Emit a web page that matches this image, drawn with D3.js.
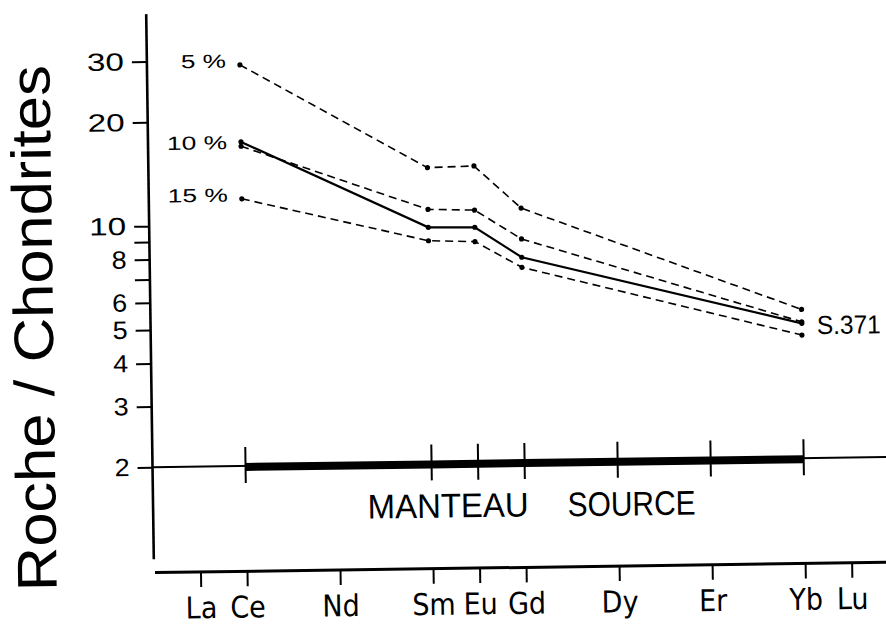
<!DOCTYPE html>
<html>
<head>
<meta charset="utf-8">
<script src="https://cdn.jsdelivr.net/npm/d3@7"></script>
<style>
  html, body { margin: 0; padding: 0; background: #fff; }
  svg { display: block; }
  text { fill: #000; font-family: "Liberation Sans", Arial, sans-serif; }
  .narrow { font-family: "Liberation Sans Narrow", "DejaVu Sans Condensed", "Liberation Sans", sans-serif; }
</style>
</head>
<body>
<svg id="chart" width="886" height="626"></svg>
<script>
// Rare earth elements on the x axis, placed by atomic number
const elements = ["La", "Ce", "Nd", "Sm", "Eu", "Gd", "Dy", "Er", "Yb", "Lu"];
const atomicNumbers = [57, 58, 60, 62, 63, 64, 66, 68, 70, 71];

// Elements with analysed / modelled values
const seriesElements = ["Ce", "Sm", "Eu", "Gd", "Yb"];

// Partial melting models (rock / chondrite)
const melt5  = [29.1, 14.4, 14.5, 10.9, 5.40];
const melt10 = [16.9, 10.9, 10.8, 8.87, 4.97];
const melt15 = [11.9, 8.84, 8.75, 7.34, 4.55];
// Sample S.371
const s371   = [17.4, 9.67, 9.63, 7.85, 4.92];

// Mantle source composition
const mantleElements = ["Ce", "Sm", "Eu", "Gd", "Dy", "Er", "Yb"];
const mantleValues   = [2, 2, 2, 2, 2, 2, 2];

// Y axis ticks and which of them carry a label
const yTicks = [2, 3, 4, 5, 6, 7, 8, 9, 10, 20, 30];
const yTickLabels = [2, 3, 4, 5, 6, 8, 10, 20, 30];

const meltLabels = ["5 %", "10 %", "15 %"];

const zOf = el => atomicNumbers[elements.indexOf(el)];

const svg = d3.select("#chart");
// the whole drawing sits very slightly tilted on the page
const root = svg.append("g").attr("transform", "rotate(-0.8,480,320)");

const x = d3.scaleLinear().domain([57, 70]).range([197, 801.7]);
const y = d3.scaleLog().domain([2, 20]).range([462.7, 117.7]);

const axisX = 150.5;

// ---- Y axis ----
root.append("line")
  .attr("x1", axisX).attr("x2", axisX)
  .attr("y1", 9.5).attr("y2", 554.7)
  .attr("stroke", "#000").attr("stroke-width", 2.6);

const yAxis = d3.axisLeft(y)
  .tickValues(yTicks)
  .tickSize(15)
  .tickPadding(8)
  .tickFormat(d => yTickLabels.includes(d) ? String(d) : "");

root.append("g")
  .attr("transform", `translate(${axisX},0)`)
  .call(yAxis)
  .call(g => g.select(".domain").remove())
  .call(g => g.selectAll(".tick line").attr("stroke", "#000").attr("stroke-width", 2))
  .call(g => g.selectAll(".tick text")
      .attr("font-family", "Liberation Sans, Arial, sans-serif")
      .attr("font-size", 25)
      .attr("fill", "#000")
      .each(function () {
        const t = d3.select(this).text();
        if (t.length === 2) d3.select(this).attr("textLength", 37).attr("lengthAdjust", "spacingAndGlyphs");
        else if (t.length === 1) d3.select(this).attr("textLength", 15).attr("lengthAdjust", "spacingAndGlyphs");
      }));

// Y title
root.append("text")
  .attr("transform", "translate(53,322) rotate(-90)")
  .attr("text-anchor", "middle")
  .attr("font-size", 56)
  .attr("textLength", 526)
  .attr("lengthAdjust", "spacingAndGlyphs")
  .text("Roche / Chondrites");

// ---- Mantle source reference at 2 ----
root.append("line")
  .attr("x1", axisX).attr("x2", 900)
  .attr("y1", y(2)).attr("y2", y(2))
  .attr("stroke", "#000").attr("stroke-width", 2);

const mantleLine = d3.line()
  .x((d, i) => x(zOf(mantleElements[i])))
  .y(d => y(d) + 1);

root.append("path")
  .datum(mantleValues)
  .attr("d", mantleLine)
  .attr("fill", "none")
  .attr("stroke", "#000")
  .attr("stroke-width", 8);

root.append("g").selectAll("line")
  .data(mantleElements)
  .join("line")
  .attr("x1", d => x(zOf(d))).attr("x2", d => x(zOf(d)))
  .attr("y1", (d, i) => y(mantleValues[i]) - 19)
  .attr("y2", (d, i) => y(mantleValues[i]) + 17)
  .attr("stroke", "#000").attr("stroke-width", 2);

root.append("text")
  .attr("x", 365).attr("y", 517)
  .attr("font-size", 34)
  .attr("textLength", 161)
  .attr("lengthAdjust", "spacingAndGlyphs")
  .text("MANTEAU");
root.append("text")
  .attr("x", 565).attr("y", 517.5)
  .attr("font-size", 34)
  .attr("textLength", 128)
  .attr("lengthAdjust", "spacingAndGlyphs")
  .text("SOURCE");

// ---- X axis ----
const xAxis = d3.axisBottom(x)
  .tickValues(atomicNumbers)
  .tickSize(15)
  .tickPadding(10)
  .tickFormat((d, i) => elements[i]);

root.append("g")
  .attr("transform", "translate(0,568)")
  .call(xAxis)
  .call(g => g.select(".domain").remove())
  .call(g => g.selectAll(".tick line").attr("stroke", "#000").attr("stroke-width", 2))
  .call(g => g.selectAll(".tick text")
      .attr("class", "narrow")
      .attr("font-size", 30)
      .attr("fill", "#000"));

root.append("line")
  .attr("x1", 151.5).attr("x2", 900)
  .attr("y1", 568).attr("y2", 568)
  .attr("stroke", "#000").attr("stroke-width", 3);

// ---- Series ----
const seriesLine = d3.line()
  .x((d, i) => x(zOf(seriesElements[i])))
  .y(d => y(d));

const meltSeries = [melt5, melt10, melt15];

root.append("g").selectAll("path")
  .data(meltSeries)
  .join("path")
  .attr("d", seriesLine)
  .attr("fill", "none")
  .attr("stroke", "#000")
  .attr("stroke-width", 1.6)
  .attr("stroke-dasharray", "8,5");

root.append("path")
  .datum(s371)
  .attr("d", seriesLine)
  .attr("fill", "none")
  .attr("stroke", "#000")
  .attr("stroke-width", 2.2);

const allSeries = [melt5, melt10, melt15, s371];
allSeries.forEach(vals => {
  root.append("g").selectAll("circle")
    .data(vals)
    .join("circle")
    .attr("cx", (d, i) => x(zOf(seriesElements[i])))
    .attr("cy", d => y(d))
    .attr("r", 2.6)
    .attr("fill", "#000");
});

// Melt fraction labels beside the Ce values
const labelWidths = [45, 60, 60];
root.append("g").selectAll("text")
  .data(meltSeries)
  .join("text")
  .attr("x", x(zOf("Ce")) - 14)
  .attr("y", d => y(d[0]) - 4)
  .attr("dy", "0.35em")
  .attr("text-anchor", "end")
  .attr("font-size", 19)
  .attr("textLength", (d, i) => labelWidths[i])
  .attr("lengthAdjust", "spacingAndGlyphs")
  .text((d, i) => meltLabels[i]);

// Sample label next to its Yb value
root.append("text")
  .attr("x", x(zOf("Yb")) + 15)
  .attr("y", y(s371[4]) + 11)
  .attr("font-size", 26)
  .attr("textLength", 64)
  .attr("lengthAdjust", "spacingAndGlyphs")
  .text("S.371");
</script>
</body>
</html>
